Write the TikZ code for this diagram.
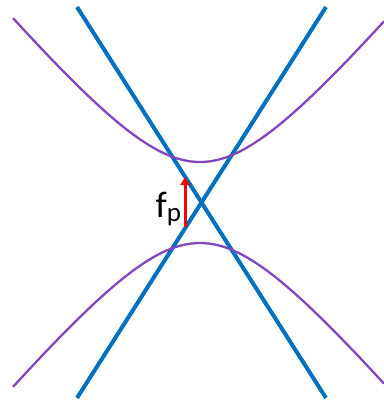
\documentclass[tikz,border=0pt]{standalone}
\usepackage{fontspec}
\setmainfont{Carlito}
\usetikzlibrary{arrows.meta}
\definecolor{lineblue}{HTML}{0070C0}
\definecolor{curvepurple}{HTML}{8048BA}
\tikzset{
  asym/.style={draw=lineblue, line width=4pt},
  band/.style={draw=curvepurple, line width=2.3pt},
  gaparrow/.style={draw=red, line width=3pt, -{Triangle[width=9pt,length=8pt]}},
}
\begin{document}
\begin{tikzpicture}[x=100pt,y=-100pt]
\useasboundingbox (0,0) rectangle (3.83,4.01);
\coordinate (tl) at (0.77,0.07);
\coordinate (tr) at (3.26,0.07);
\coordinate (bl) at (0.77,3.98);
\coordinate (br) at (3.26,3.98);
\draw[asym] (tl) -- (br);
\draw[asym] (tr) -- (bl);
\draw[band] plot[domain=-1.87:1.84, samples=120, smooth] ({2.0+\x}, {1.62-(sqrt(1.03*1.03+1.44*\x*\x)-1.03)});
\draw[band] plot[domain=-1.87:1.84, samples=120, smooth] ({2.0+\x}, {2.43+(sqrt(1.03*1.03+1.44*\x*\x)-1.03)});
\coordinate (a0) at (1.85,2.27);
\coordinate (a1) at (1.85,1.77);
\draw[gaparrow] (a0) -- (a1);
\node[anchor=base west, inner sep=0pt] (fp) at (1.555,2.17) {\fontsize{37}{37}\selectfont f\raisebox{-4pt}{\fontsize{27}{27}\selectfont p}};
\end{tikzpicture}
\end{document}
